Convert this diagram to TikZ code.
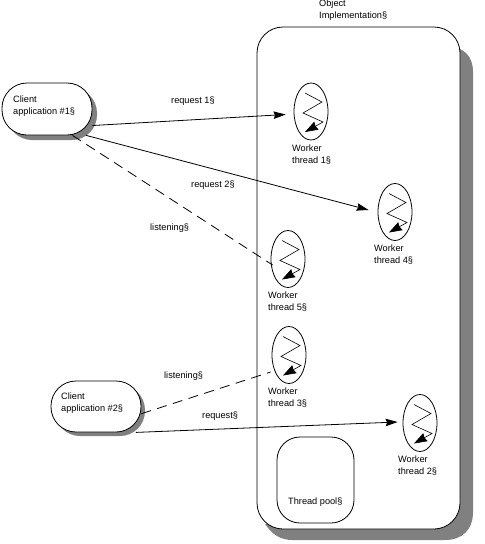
\documentclass[tikz,border=0pt]{standalone}
\usepackage{fontspec}
\setmainfont{Liberation Sans}
\usetikzlibrary{shapes.geometric,arrows.meta,calc}
\tikzset{
  px/.style={x=1pt,y=-1pt},
  ink/.style={line width=0.8pt,draw=black},
  hatchfill/.style={fill=black!50},
  txt/.style={inner sep=0pt,anchor=west,align=left,font=\fontsize{9.2}{12}\selectfont},
  client/.style={ink,fill=white,rectangle,rounded corners=25pt,inner sep=0pt,minimum width=90pt,minimum height=52pt},
  worker/.style={ink,fill=white,ellipse,inner sep=0pt,minimum width=34pt,minimum height=57pt},
  bigtip/.style={-{Stealth[length=12pt,width=7.5pt,inset=1.5pt]}},
  link/.style={ink,bigtip},
  dashlink/.style={line width=0.8pt,draw=black,dash pattern=on 10pt off 6.5pt}
}
\begin{document}
\begin{tikzpicture}[px]
\useasboundingbox (0,0) rectangle (485,544);
\fill[white] (0,0) rectangle (485,544);
% main box shadow
\fill[hatchfill] (460,49) .. controls (468,53) and (473,60) .. (473,72) -- (473,512)
  .. controls (473,530) and (462,540) .. (445,540) -- (292,540)
  .. controls (280,540) and (272,534) .. (265,524) -- (440,500) -- cycle;
\node[ink,fill=white,rectangle,rounded corners=26pt,inner sep=0pt,minimum width=203pt,minimum height=502pt] (impl) at (358.5,278) {};
\node[txt] (implt) at (319,10) {Object\\Implementation§};
% thread pool
\node[ink,fill=white,rectangle,rounded corners=23pt,inner sep=0pt,minimum width=77pt,minimum height=86pt] (pool) at (315.5,480) {};
\node[txt] (poolt) at (288,502) {Thread pool§};
% clients
\fill[hatchfill,rounded corners=25pt] (7,88) rectangle (97,140);
\node[client] (c1) at (47,109) {};
\node[txt] (c1t) at (13,106.5) {Client\\application \#1§};
\fill[hatchfill,rounded corners=25pt] (55,385) rectangle (145,436);
\node[client,minimum height=51pt] (c2) at (96,406.5) {};
\node[txt] (c2t) at (61,403) {Client\\application \#2§};
% workers
\node[worker] (w1) at (311,111.5) {};
\node[worker] (w4) at (395,212) {};
\node[worker] (w5) at (288,259) {};
\node[worker] (w3) at (289,355) {};
\node[worker] (w2) at (420,423) {};
\foreach \n in {w1,w4,w5,w3,w2}{
  \begin{scope}[shift={(\n)}]
    \draw[line width=0.6pt,-{Stealth[length=13pt,width=9pt,inset=1pt]}] (-6,-18.5) -- (11,-9.5) -- (-8,1.5) -- (12,10.5) -- (-6,20.5);
  \end{scope}
}
\node[txt] (w1t) at (292,155) {Worker\\thread 1§};
\node[txt] (w4t) at (374,254.5) {Worker\\thread 4§};
\node[txt] (w5t) at (268,302) {Worker\\thread 5§};
\node[txt] (w3t) at (268,398) {Worker\\thread 3§};
\node[txt] (w2t) at (398,465.5) {Worker\\thread 2§};
% connectors
\draw[link] (c1.-20) -- ($(w1.west)+(-8,3)$);
\draw[link] (c1.-34) -- ($(w4.west)+(-9,-2)$);
\draw[dashlink] (c1.-46) -- ($(w5.west)+(2,6)$);
\draw[dashlink] (c2.-9) -- ($(w3.west)+(-1,17)$);
\draw[link] (c2.-33) -- ($(w2.west)+(-5,-1)$);
% labels
\node[txt] (l1) at (171,101) {request 1§};
\node[txt] (l2) at (191,185) {request 2§};
\node[txt] (l3) at (150,228) {listening§};
\node[txt] (l4) at (164,376) {listening§};
\node[txt] (l5) at (202,416) {request§};
\end{tikzpicture}
\end{document}
